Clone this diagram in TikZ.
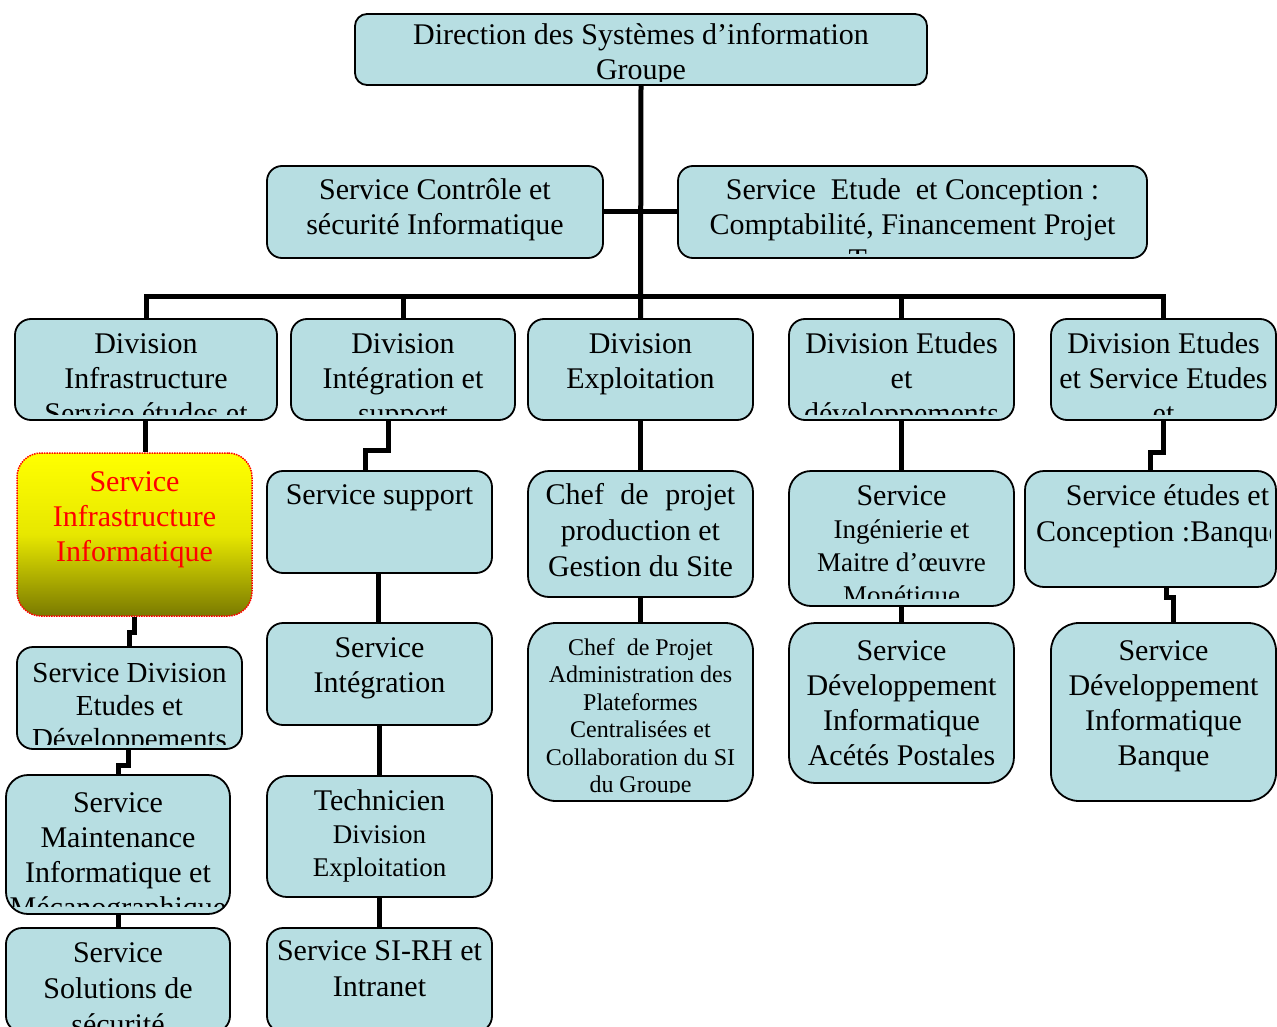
\documentclass[tikz,border=0pt]{standalone}
\usepackage{fontspec}
\setmainfont{Liberation Serif}
\definecolor{boxfill}{RGB}{183,222,226}
\definecolor{olivedark}{RGB}{122,122,0}

\tikzset{
  orgbox/.style={draw=black, line width=1.8pt, fill=boxfill, rounded corners=#1, inner sep=0pt},
  orgbox/.default=16pt,
  link/.style={draw=black, line width=5pt},
  lbl/.style={anchor=base, inner sep=0pt},
  f30/.style={font=\fontsize{30}{35}\selectfont},
  f30w/.style={font=\fontsize{30}{36}\selectfont},
  f29/.style={font=\fontsize{29}{33}\selectfont},
  f24/.style={font=\fontsize{24}{27.5}\selectfont},
}

% text of a box, cut off by the inner frame of that box
\newcommand\boxlabel[6]{%
  \begin{scope}
    \clip (#2) rectangle (#3);
    \node[lbl, #5] (#1) at (#4) {\parbox[t]{800pt}{\centering #6}};
  \end{scope}}

\begin{document}
\begin{tikzpicture}[x=1pt,y=-1pt]
\useasboundingbox (0,0) rectangle (1277,1027);
\clip (0,0) rectangle (1277,1027);

% ---------- boxes ----------
\node[orgbox=12pt, minimum width=572pt, minimum height=71pt] (dsi) at (641,49.5) {};
\node[orgbox=15pt, minimum width=336pt, minimum height=92pt] (ctrl) at (435,212) {};
\node[orgbox=15pt, minimum width=469pt, minimum height=92pt] (etude) at (912.5,212) {};

\node[orgbox, minimum width=262pt, minimum height=101pt] (d1) at (146,369.5) {};
\node[orgbox, minimum width=224pt, minimum height=101pt] (d2) at (403,369.5) {};
\node[orgbox, minimum width=225pt, minimum height=101pt] (d3) at (640.5,369.5) {};
\node[orgbox, minimum width=225pt, minimum height=101pt] (d4) at (901.5,369.5) {};
\node[orgbox, minimum width=225pt, minimum height=101pt] (d5) at (1163.5,369.5) {};

\node[draw=red, densely dotted, line width=1.5pt, rounded corners=24pt, inner sep=0pt,
      top color=yellow, bottom color=olivedark, middle color=yellow!82!olivedark,
      minimum width=235pt, minimum height=163pt] (sii) at (134.5,534.5) {};
\node[orgbox, minimum width=225pt, minimum height=102pt] (sde) at (129.5,698) {};
\node[orgbox=22pt, minimum width=224pt, minimum height=139pt] (maint) at (118,844.5) {};
\node[orgbox, minimum width=224pt, minimum height=104pt] (sol) at (118,980) {};

\node[orgbox, minimum width=225pt, minimum height=102pt] (sup) at (379.5,522) {};
\node[orgbox, minimum width=225pt, minimum height=102pt] (integ) at (379.5,674) {};
\node[orgbox=20pt, minimum width=225pt, minimum height=121pt] (tech) at (379.5,836.5) {};
\node[orgbox, minimum width=225pt, minimum height=104pt] (sirh) at (379.5,980) {};

\node[orgbox=21pt, minimum width=225pt, minimum height=126pt] (chef) at (640.5,534) {};
\node[orgbox=28pt, minimum width=225pt, minimum height=178pt] (admin) at (640.5,712) {};

\node[orgbox=22pt, minimum width=225pt, minimum height=135pt] (ing) at (901.5,538.5) {};
\node[orgbox=26pt, minimum width=225pt, minimum height=160pt] (acet) at (901.5,703) {};

\node[orgbox=19pt, minimum width=251pt, minimum height=116pt] (etb) at (1150.5,529) {};
\node[orgbox=28pt, minimum width=225pt, minimum height=178pt] (banq) at (1163.5,712) {};

% ---------- connectors ----------
\coordinate (bus) at (640.5,296);
\draw[link] (dsi.south) -- (d3.north);
\draw[link] (ctrl.east) -- (etude.west);
\draw[link] (d1.north) |- (bus) -| (d5.north);
\draw[link] (d2.north) -- (d2.north |- bus);
\draw[link] (d4.north) -- (d4.north |- bus);

\draw[link] ([xshift=-1pt]d1.south) -- ([xshift=-1pt]d1.south |- sii.north);
\draw[link] (sii.south) -- ++(0,16) -| (sde.north);
\draw[link] ([xshift=-1.5pt]sde.south) -- ++(0,16) -| (maint.north);
\draw[link] (maint.south) -- (sol.north);

\draw[link] ([xshift=-15pt]d2.south) -- ++(0,30) -| ([xshift=-14pt]sup.north);
\draw[link] ([xshift=-1pt]sup.south) -- ([xshift=-1pt]integ.north);
\draw[link] (integ.south) -- (tech.north);
\draw[link] (tech.south) -- (sirh.north);

\draw[link] (d3.south) -- (chef.north);
\draw[link] (chef.south) -- (admin.north);

\draw[link] (d4.south) -- (ing.north);
\draw[link] (ing.south) -- (acet.north);

\draw[link] (d5.south) -- ++(0,32) -| (etb.north);
\draw[link] ([xshift=16pt]etb.south) -- ++(0,10) -| ([xshift=9.5pt]banq.north);

% ---------- texts ----------
\boxlabel{t-dsi}{357,16}{925,82}{641,45}{f30}{Direction des Systèmes d’information\\Groupe}
\boxlabel{t-ctrl}{269,168}{601,254}{435,200}{f30}{Service Contrôle et\\sécurité Informatique}
\boxlabel{t-etude}{680,168}{1145,253}{912.5,200}{f30}{Service\ \ Etude\ \ et Conception :\\Comptabilité, Financement Projet\\\makebox[128pt][l]{T}}

\boxlabel{t-d1}{17,321}{275,414}{146,353}{f30}{Division\\Infrastructure\\Service études et}
\boxlabel{t-d2}{293,321}{513,414}{403,353}{f30}{Division\\Intégration et\\support}
\boxlabel{t-d3}{530,321}{751,414}{640.5,353}{f30}{Division\\Exploitation}
\boxlabel{t-d4}{791,321}{1012,414}{901.5,353}{f30}{Division Etudes\\et\\développements}
\boxlabel{t-d5}{1053,321}{1274,414}{1163.5,353}{f30}{Division Etudes\\et Service Etudes\\et}

\boxlabel{t-sii}{19,455}{250,612}{134.5,491}{f30, text=red}{Service\\Infrastructure\\Informatique}
\boxlabel{t-sde}{19,649}{240,744}{129.5,682}{f29}{Service Division\\Etudes et\\Développements}
\boxlabel{t-maint}{8,777}{228,906}{118,812}{f30}{Service\\Maintenance\\Informatique et\\Mécanographique}
\boxlabel{t-sol}{8,930}{228,1027}{118,962}{f30w}{Service\\Solutions de\\sécurité}

\boxlabel{t-sup}{269,473}{490,569}{379.5,504}{f30}{Service support}
\boxlabel{t-integ}{269,625}{490,721}{379.5,657}{f30}{Service\\Intégration}
\boxlabel{t-tech}{269,778}{490,893}{379.5,810}{}{\fontsize{30}{33}\selectfont Technicien\\ \fontsize{27}{33}\selectfont Division\\Exploitation}
\boxlabel{t-sirh}{269,930}{490,1027}{379.5,960}{f30w}{Service SI-RH et\\Intranet}

\boxlabel{t-chef}{530,473}{751,593}{640.5,504}{f30w}{Chef\hspace{16.5pt}de\hspace{16.5pt}projet\\production et\\Gestion du Site}
\boxlabel{t-admin}{530,625}{751,792}{640.5,655}{f24}{Chef\ \ de Projet\\Administration des\\Plateformes\\Centralisées et\\Collaboration du SI\\du Groupe}

\boxlabel{t-ing}{791,473}{1012,598}{901.5,505}{}{\fontsize{30}{33}\selectfont Service\\ \fontsize{27}{33}\selectfont Ingénierie et\\Maitre d’œuvre\\Monétique}
\boxlabel{t-acet}{791,625}{1012,779}{901.5,660}{f30}{Service\\Développement\\Informatique\\Acétés Postales}

\boxlabel{t-etb}{1027,473}{1270,583}{1159,505}{f30w}{\hspace*{17pt}Service études et\\Conception :Banque}
\boxlabel{t-banq}{1053,625}{1274,797}{1163.5,660}{f30}{Service\\Développement\\Informatique\\Banque}

\end{tikzpicture}
\end{document}
